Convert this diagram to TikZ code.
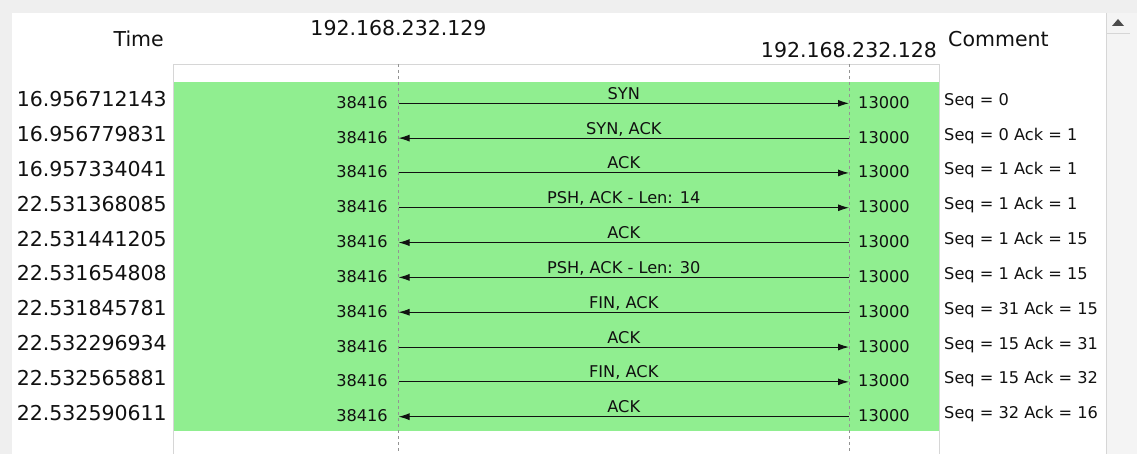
\documentclass[tikz,border=0pt]{standalone}
\usepackage{fontspec}
\setmainfont{DejaVu Sans}
\usetikzlibrary{arrows.meta}
\definecolor{bggray}{HTML}{EFEFEF}
\definecolor{sbgray}{HTML}{F4F4F4}
\definecolor{linegray}{HTML}{D6D6D6}
\definecolor{dashgray}{HTML}{939393}
\definecolor{pktgreen}{HTML}{90EE90}
\definecolor{txt}{HTML}{111111}
\tikzset{
  big/.style={inner sep=0pt, text=txt, font=\fontsize{20.5}{24}\selectfont},
  small/.style={inner sep=0pt, text=txt, font=\fontsize{16.2}{19}\selectfont},
  lifeline/.style={draw=dashgray, line width=1pt, dash pattern=on 3pt off 3pt},
  msgr/.style={draw=txt, line width=1pt, -{Latex[length=11pt,width=7pt]}},
  msgl/.style={draw=txt, line width=1pt, {Latex[length=11pt,width=7pt]}-},
}
\begin{document}
\begin{tikzpicture}[x=1pt,y=-1pt]
\useasboundingbox (0,0) rectangle (1137,454);
% window background
\fill[bggray] (0,0) rectangle (1137,454);
\fill[white] (12,13) rectangle (1106,454);
\fill[sbgray] (1106,13) rectangle (1137,454);
\draw[linegray, line width=1pt] (1106.5,13) -- (1106.5,454);
\draw[linegray, line width=1pt] (1106,33.7) -- (1130,33.7);
\fill[black!70] (1112,26) -- (1124,26) -- (1118,19) -- cycle;
% plot area
\draw[linegray, line width=1pt] (173.5,454) -- (173.5,64.5) -- (939.5,64.5) -- (939.5,454);
\fill[pktgreen] (174,82) rectangle (939,431);
\coordinate (LT) at (398.5,64);
\coordinate (LB) at (398.5,454);
\coordinate (RT) at (849,64);
\coordinate (RB) at (849,454);
\draw[lifeline] (LT) -- (LB);
\draw[lifeline] (RT) -- (RB);
% headers
\node[big, anchor=base east] (hTime) at (164,47) {Time};
\node[big, anchor=base] (ipA) at (398.5,36) {192.168.232.129};
\node[big, anchor=base] (ipB) at (849,58) {192.168.232.128};
\node[big, anchor=base west] (hComment) at (948,47) {Comment};
% rows
\foreach \i/\t/\m/\d/\c in {
  1/16.956712143/SYN/msgr/{Seq = 0},
  2/16.956779831/{SYN, ACK}/msgl/{Seq = 0 Ack = 1},
  3/16.957334041/ACK/msgr/{Seq = 1 Ack = 1},
  4/22.531368085/{PSH, ACK - Len: 14}/msgr/{Seq = 1 Ack = 1},
  5/22.531441205/ACK/msgl/{Seq = 1 Ack = 15},
  6/22.531654808/{PSH, ACK - Len: 30}/msgl/{Seq = 1 Ack = 15},
  7/22.531845781/{FIN, ACK}/msgl/{Seq = 31 Ack = 15},
  8/22.532296934/ACK/msgr/{Seq = 15 Ack = 31},
  9/22.532565881/{FIN, ACK}/msgr/{Seq = 15 Ack = 32},
  10/22.532590611/ACK/msgl/{Seq = 32 Ack = 16}}{
  \pgfmathsetmacro{\yy}{103.3+(\i-1)*34.82}
  \coordinate (L\i) at (398.5,\yy);
  \coordinate (R\i) at (849,\yy);
  \draw[\d] (L\i) -- (R\i);
  \node[big, anchor=base east] (time\i) at (167,\yy+3.5) {\t};
  \node[small, anchor=base east] (pa\i) at (388,\yy+5) {38416};
  \node[small, anchor=base west] (pb\i) at (858,\yy+5) {13000};
  \node[small, anchor=base] (lab\i) at (623.75,\yy-4) {\m};
  \node[small, anchor=base west] (com\i) at (944,\yy+2) {\c};
}
\end{tikzpicture}
\end{document}
